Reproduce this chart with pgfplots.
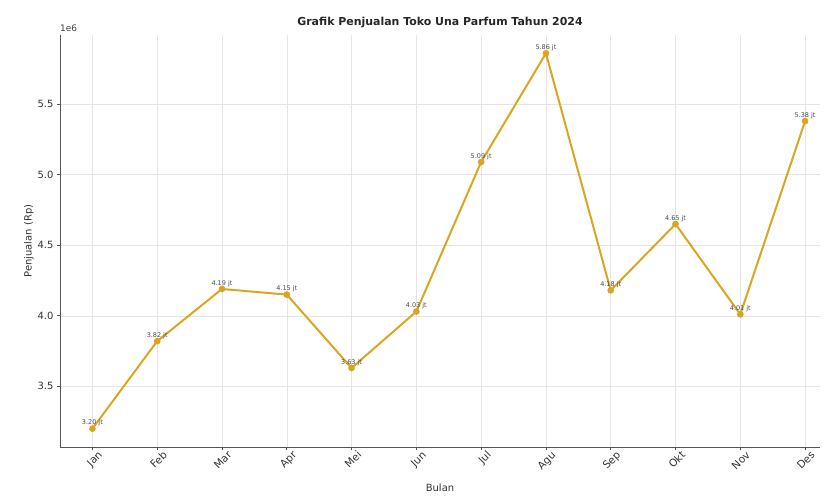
\documentclass[border=0pt]{standalone}
\usepackage{pgfplots}
\pgfplotsset{compat=1.18}
\usepackage{fontspec}
\setmainfont{DejaVu Sans}
\definecolor{gold}{HTML}{DAA520}
\definecolor{spine}{HTML}{555555}
\begin{document}
\begin{tikzpicture}
\useasboundingbox (-60bp,-49bp) rectangle (764bp,447bp);
\begin{axis}[
  at={(0,0)}, anchor=south west,
  scale only axis, width=760bp, height=412bp,
  xmin=-0.5, xmax=11.23, ymin=3.07, ymax=5.99,
  axis lines*=left,
  axis line style={spine, line width=1pt},
  /pgf/number format/assume math mode=true,
  xtick={0,...,11},
  xticklabels={Jan,Feb,Mar,Apr,Mei,Jun,Jul,Agu,Sep,Okt,Nov,Des},
  xticklabel style={rotate=45, anchor=north east, font=\fontsize{10.5}{11}\selectfont, text=black!80, inner sep=0.5pt, xshift=4bp, yshift=-3bp},
  ytick={3.5,4.0,4.5,5.0,5.5},
  yticklabels={3.5,4.0,4.5,5.0,5.5},
  yticklabel style={font=\fontsize{10}{11}\selectfont, text=black!80},
  tick style={spine, line width=0.6pt},
  tick align=outside, major tick length=3bp,
  grid=major, grid style={black!10, line width=0.5pt},
  xlabel={Bulan}, ylabel={Penjualan (Rp)},
  xlabel style={font=\fontsize{10}{11}\selectfont, text=black!80, yshift=-8bp},
  ylabel style={font=\fontsize{10}{11}\selectfont, text=black!80, yshift=-3bp},
  title={Grafik Penjualan Toko Una Parfum Tahun 2024},
  title style={font=\bfseries\fontsize{11}{12}\selectfont, text=black!85, at={(axis description cs:0.5,1)}, yshift=-2bp},
  clip=false,
  nodes near coords={\pgfmathprintnumber[fixed,precision=2,fixed zerofill]{\pgfplotspointmeta}~jt},
  nodes near coords style={font=\fontsize{6.5}{7}\selectfont, text=black!70, anchor=south, inner sep=1.5pt},
]
\node[anchor=south west, font=\fontsize{9}{10}\selectfont, text=black!75, inner sep=0pt] at (axis description cs:0,1.008) {1e6};
\addplot[gold, line width=2pt, mark=*, mark size=2.3pt, mark options={fill=gold, draw=gold}] coordinates {
(0,3.20) (1,3.82) (2,4.19) (3,4.15) (4,3.63) (5,4.03) (6,5.09) (7,5.86) (8,4.18) (9,4.65) (10,4.01) (11,5.38)
};
\end{axis}
\end{tikzpicture}
\end{document}
